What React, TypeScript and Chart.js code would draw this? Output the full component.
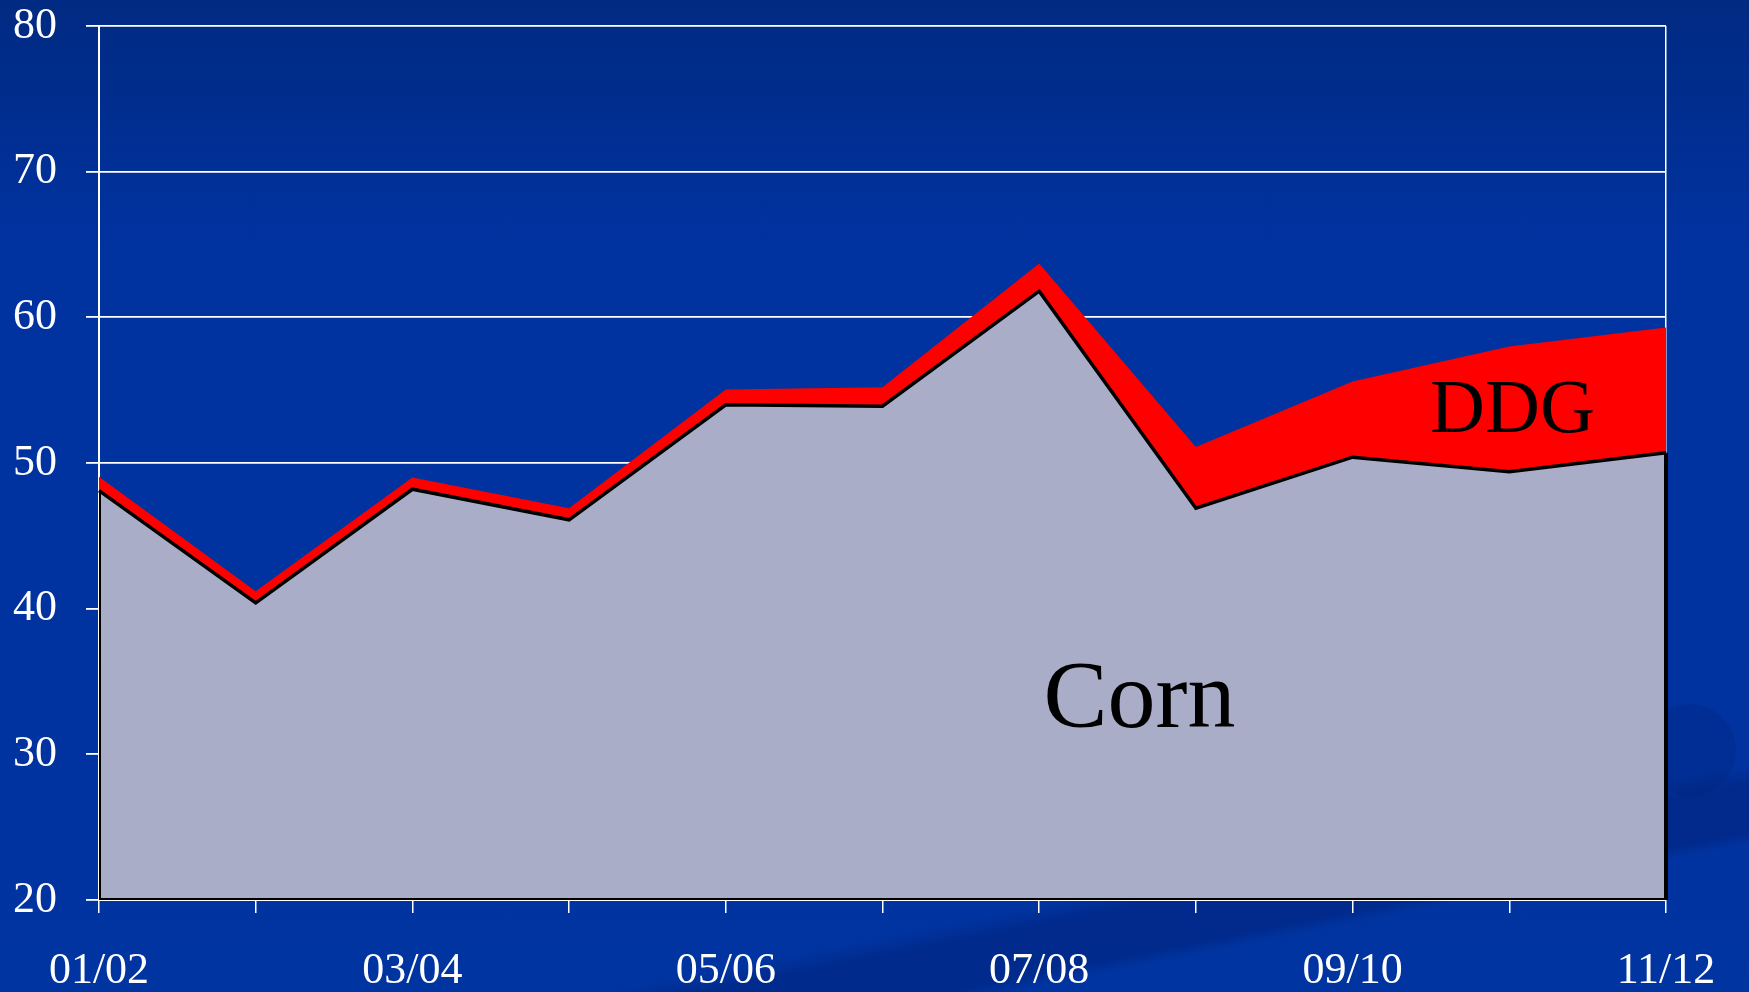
import React, { useEffect, useRef } from 'react';
import { Chart, registerables } from 'chart.js';

Chart.register(...registerables);

const seasons = ['01/02', '02/03', '03/04', '04/05', '05/06', '06/07', '07/08', '08/09', '09/10', '10/11', '11/12'];
const cornValues = [48.1, 40.4, 48.2, 46.1, 54.0, 53.9, 61.8, 46.9, 50.4, 49.4, 50.7];
const ddgValues = [0.95, 0.8, 0.8, 0.8, 1.05, 1.3, 1.9, 4.2, 5.2, 8.6, 8.6];
const yMin = 20;
const yMax = 80;
const yStep = 10;
const labelEvery = 2;

const areaLabels = [
  { text: 'Corn', x: 6.64, y: 31.9, size: 96 },
  { text: 'DDG', x: 9.02, y: 52.1, size: 76 },
];

const FONT = '"Liberation Serif", "Times New Roman", serif';

const outlinePlugin = {
  id: 'cornOutline',
  afterDatasetsDraw(chart: any) {
    const { ctx, scales } = chart;
    const xs = scales.x;
    const ys = scales.y;
    const meta = chart.getDatasetMeta(0);
    const pts = meta.data;
    if (!pts || !pts.length) return;
    const bottom = ys.getPixelForValue(yMin);
    const first = pts[0];
    const last = pts[pts.length - 1];
    ctx.save();
    ctx.strokeStyle = '#000';
    ctx.lineWidth = 2;
    ctx.beginPath();
    ctx.moveTo(first.x + 1, first.y);
    ctx.lineTo(first.x + 1, bottom - 1);
    ctx.lineTo(last.x, bottom - 1);
    ctx.stroke();
    ctx.lineWidth = 4;
    ctx.beginPath();
    ctx.moveTo(last.x, last.y);
    ctx.lineTo(last.x, bottom);
    ctx.stroke();
    ctx.fillStyle = '#000';
    ctx.textAlign = 'center';
    ctx.textBaseline = 'alphabetic';
    for (const a of areaLabels) {
      ctx.font = `${a.size}px ${FONT}`;
      ctx.fillText(a.text, xs.getPixelForValue(a.x), ys.getPixelForValue(a.y));
    }
    ctx.restore();
  },
};

export default function App() {
  const canvasRef = useRef<HTMLCanvasElement | null>(null);

  useEffect(() => {
    document.body.style.margin = '0';
    const canvas = canvasRef.current;
    if (!canvas) return;
    const chart = new Chart(canvas, {
      type: 'line',
      data: {
        labels: seasons,
        datasets: [
          {
            label: 'Corn',
            data: cornValues,
            borderColor: '#000',
            borderWidth: 3.5,
            backgroundColor: '#A9ADC8',
            fill: 'start',
            pointRadius: 0,
            tension: 0,
          },
          {
            label: 'DDG',
            data: ddgValues,
            borderColor: 'rgba(0,0,0,0)',
            borderWidth: 0,
            backgroundColor: '#FF0000',
            fill: '-1',
            pointRadius: 0,
            tension: 0,
          },
        ],
      },
      options: {
        animation: false,
        responsive: true,
        maintainAspectRatio: false,
        layout: { padding: { top: 26, right: 83, left: 0, bottom: 0 } },
        plugins: {
          legend: { display: false },
          tooltip: { enabled: false },
          title: { display: false },
        },
        scales: {
          x: {
            type: 'category',
            offset: false,
            afterFit(scale: any) {
              scale.height = 92;
              scale.paddingLeft = 0;
              scale.paddingRight = 0;
            },
            border: { display: true, color: '#FFFFFF', width: 2 },
            grid: {
              drawOnChartArea: true,
              color: (c: any) => (c.index === seasons.length - 1 ? '#FFFFFF' : 'rgba(0,0,0,0)'),
              lineWidth: 1.5,
              tickColor: '#FFFFFF',
              tickLength: 13,
              tickWidth: 1.5,
            },
            ticks: {
              autoSkip: false,
              maxRotation: 0,
              color: '#FFFFFF',
              padding: 32,
              font: { family: FONT, size: 44 },
              callback: (_v: any, i: number) => (i % labelEvery === 0 ? seasons[i] : ''),
            },
          },
          y: {
            stacked: true,
            min: yMin,
            max: yMax,
            afterFit(scale: any) {
              scale.width = 99;
              scale.paddingTop = 0;
              scale.paddingBottom = 0;
            },
            border: { display: true, color: '#FFFFFF', width: 2 },
            grid: {
              color: '#FFFFFF',
              lineWidth: 1.8,
              tickColor: '#FFFFFF',
              tickLength: 13,
            },
            ticks: {
              stepSize: yStep,
              color: '#FFFFFF',
              padding: 29,
              font: { family: FONT, size: 44 },
            },
          },
        },
      },
      plugins: [outlinePlugin],
    });
    return () => chart.destroy();
  }, []);

  return (
    <div
      style={{
        position: 'fixed',
        left: 0,
        top: 0,
        width: '100vw',
        height: '100vh',
        background:
          'radial-gradient(circle at 1690px 750px, rgba(0,30,110,0.25) 0px, rgba(0,30,110,0.25) 45px, rgba(0,0,0,0) 47px), ' +
          'linear-gradient(168.7deg, rgba(0,0,0,0) 83%, rgba(0,30,115,0.45) 84.5%, rgba(0,30,115,0.45) 88%, rgba(0,0,0,0) 89%), ' +
          'linear-gradient(180deg, #012a82 0%, #0032a0 25%, #0034a0 100%)',
      }}
    >
      <canvas ref={canvasRef} />
    </div>
  );
}
